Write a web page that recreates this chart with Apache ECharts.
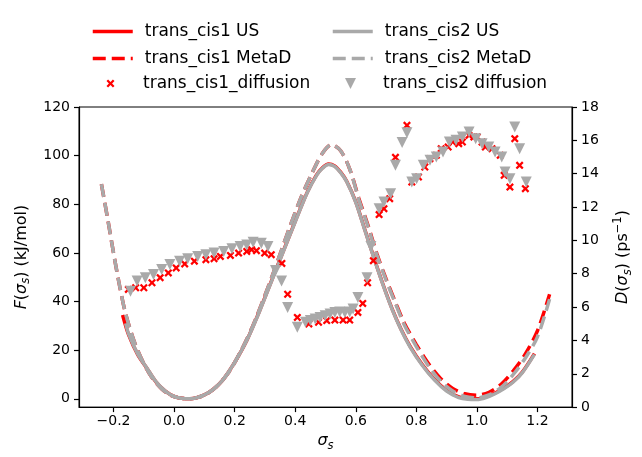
<!DOCTYPE html>
<html>
<head>
<meta charset="utf-8">
<script src="https://cdn.jsdelivr.net/npm/echarts@6/dist/echarts.min.js"></script>
<style>
html,body{margin:0;padding:0;background:#fff;}
#c{width:642px;height:457px;}
</style>
</head>
<body>
<div id="c"></div>
<script>
// ---- data ----
const xTicks = [-0.2, 0.0, 0.2, 0.4, 0.6, 0.8, 1.0, 1.2];
const fTicks = [0, 20, 40, 60, 80, 100, 120];

// trans_cis1 US (red solid)
const us1X = [-0.17,-0.15,-0.12,-0.09,-0.06,-0.03,0.0,0.03,0.05,0.07,0.10,0.13,0.16,0.20,0.24,0.28,0.32,0.36,0.40,0.44,0.47,0.49,0.51,0.53,0.55,0.57,0.60,0.63,0.66,0.69,0.72,0.75,0.78,0.82,0.86,0.90,0.94,0.97,1.00,1.03,1.06,1.09,1.12,1.15,1.19];
const us1F = [34.5,26.3,18.2,12.6,7.0,3.3,1.0,0.1,0.0,0.3,1.6,4.0,7.6,15.0,24.0,35.5,48.0,60.5,73.0,85.0,92.0,95.0,96.6,95.8,93.2,89.5,81.0,69.5,58.0,47.0,37.0,28.5,21.5,14.0,8.0,3.5,0.8,0.1,0.0,0.8,2.4,4.5,7.2,11.0,18.6];

// trans_cis2 US (gray solid)
const us2X = [-0.16,-0.15,-0.12,-0.09,-0.06,-0.03,0.0,0.03,0.05,0.07,0.10,0.13,0.16,0.20,0.24,0.28,0.32,0.36,0.40,0.44,0.47,0.49,0.51,0.53,0.55,0.57,0.60,0.63,0.66,0.69,0.72,0.75,0.78,0.82,0.86,0.90,0.94,0.97,1.00,1.03,1.06,1.09,1.12,1.15,1.19];
const us2F = [31.0,26.6,18.4,12.7,7.1,3.3,1.0,0.1,0.0,0.3,1.6,4.0,7.6,15.0,24.0,35.3,47.8,60.3,72.8,84.8,91.8,94.8,96.4,95.6,93.0,89.3,80.8,69.3,57.8,46.8,36.8,28.3,21.2,13.7,7.7,3.2,0.5,-0.2,-0.3,0.5,2.1,4.2,6.9,10.8,18.3];

// trans_cis1 MetaD (red dashed)
const md1X = [-0.24,-0.22,-0.20,-0.18,-0.16,-0.13,-0.10,-0.07,-0.04,-0.01,0.02,0.05,0.08,0.11,0.14,0.18,0.22,0.26,0.30,0.34,0.38,0.42,0.46,0.49,0.52,0.55,0.58,0.61,0.64,0.67,0.70,0.73,0.76,0.80,0.84,0.88,0.92,0.96,1.00,1.04,1.08,1.12,1.16,1.20,1.24];
const md1F = [88.3,74.5,60.0,46.5,35.0,23.0,14.5,8.2,4.0,1.4,0.3,0.0,0.6,2.2,5.0,10.8,19.5,30.0,42.5,56.0,70.0,83.0,94.0,101.0,104.5,102.0,94.5,82.5,71.5,59.5,49.3,40.0,31.2,22.3,14.5,8.4,4.3,2.1,1.5,2.7,6.0,11.5,18.5,28.0,43.0];

// trans_cis2 MetaD (gray dashed)
const md2X = [-0.24,-0.22,-0.20,-0.18,-0.16,-0.13,-0.10,-0.07,-0.04,-0.01,0.02,0.05,0.08,0.11,0.14,0.18,0.22,0.26,0.30,0.34,0.38,0.42,0.46,0.49,0.52,0.55,0.58,0.61,0.64,0.67,0.70,0.73,0.76,0.80,0.84,0.88,0.92,0.96,1.00,1.04,1.08,1.12,1.16,1.20,1.24];
const md2F = [88.3,74.5,60.0,46.5,35.0,23.0,14.5,8.2,4.0,1.4,0.3,0.0,0.6,2.2,5.0,10.8,19.5,30.0,42.5,56.0,70.0,83.0,94.0,101.0,104.5,102.0,94.5,82.0,71.0,59.0,48.8,39.5,30.5,21.5,13.5,7.3,3.2,1.0,0.4,1.6,4.7,10.0,16.8,25.5,41.0];

// trans_cis1_diffusion (red x)
const dif1X = [-0.151,-0.127,-0.100,-0.073,-0.046,-0.019,0.007,0.035,0.067,0.105,0.132,0.153,0.186,0.213,0.240,0.256,0.272,0.299,0.321,0.356,0.375,0.407,0.445,0.477,0.504,0.531,0.558,0.580,0.607,0.623,0.639,0.658,0.677,0.693,0.712,0.731,0.769,0.785,0.807,0.828,0.845,0.866,0.882,0.905,0.920,0.940,0.952,0.974,0.990,1.001,1.017,1.028,1.050,1.077,1.090,1.109,1.125,1.141,1.160];
const dif1D = [7.06,7.16,7.16,7.46,7.76,8.05,8.35,8.59,8.75,8.84,8.90,9.04,9.10,9.24,9.34,9.44,9.38,9.24,9.14,8.62,6.77,5.38,4.99,5.09,5.19,5.22,5.22,5.22,5.68,6.22,7.46,8.78,11.55,11.9,12.5,14.98,16.9,13.5,13.8,14.4,14.9,15.1,15.5,15.6,15.9,15.8,15.9,16.3,16.2,16.2,15.9,15.6,15.5,15.1,13.9,13.2,16.1,14.5,13.1];

// trans_cis2 diffusion (gray triangles)
const dif2X = [-0.144,-0.122,-0.095,-0.068,-0.041,-0.014,0.018,0.045,0.078,0.105,0.132,0.164,0.191,0.218,0.240,0.261,0.288,0.310,0.335,0.355,0.375,0.407,0.434,0.450,0.466,0.482,0.499,0.515,0.531,0.547,0.564,0.580,0.591,0.607,0.637,0.650,0.677,0.693,0.715,0.731,0.753,0.769,0.785,0.801,0.823,0.845,0.866,0.888,0.909,0.931,0.952,0.974,0.996,1.017,1.039,1.060,1.082,1.093,1.109,1.125,1.141,1.163];
const dif2D = [6.95,7.56,7.76,7.95,8.25,8.55,8.75,8.90,9.04,9.14,9.24,9.34,9.50,9.64,9.73,9.89,9.83,9.64,8.2,7.56,5.98,4.79,5.09,5.20,5.28,5.38,5.48,5.58,5.68,5.70,5.68,5.70,5.88,6.57,7.76,9.64,11.9,12.3,12.8,14.5,15.87,16.46,13.5,13.7,14.5,14.8,15.0,15.3,15.9,16.0,16.2,16.5,16.1,15.8,15.6,15.3,15.0,14.1,13.7,16.8,15.5,13.5];

// ---- chart ----
const RED = '#ff0000', GRAY = '#a9a9a9';
const FONT = 'DejaVu Sans';
const pair = (xs, ys) => xs.map((x, i) => [x, ys[i]]);
const fmtX = v => (Math.round(v * 10) / 10).toFixed(1).replace('-', '\u2212');
const XPATH = 'path://M2,0L5,3L8,0L10,2L7,5L10,8L8,10L5,7L2,10L0,8L3,5L0,2Z';
const VPATH = 'path://M0,0L10,0L5,10Z';

const nameRich = {
  n: {fontFamily: FONT, fontSize: 16, color: '#000', lineHeight: 22},
  i: {fontFamily: FONT, fontSize: 16, fontStyle: 'italic', color: '#000', lineHeight: 22},
  sub: {fontFamily: FONT, fontSize: 11.5, fontStyle: 'italic', color: '#000', verticalAlign: 'bottom', lineHeight: 16},
  sup: {fontFamily: FONT, fontSize: 11.5, color: '#000', verticalAlign: 'top', lineHeight: 12}
};

const chart = echarts.init(document.getElementById('c'), null, {renderer: 'canvas'});
const legText = {fontFamily: FONT, fontSize: 17, color: '#000', lineHeight: 16};
function lineLegend(handleLeft, names) {
  return {orient: 'vertical', left: handleLeft - 5, top: 18, itemWidth: 40, itemHeight: 16, itemGap: 10,
    selectedMode: false, textStyle: Object.assign({}, legText, {padding: [0, 0, 0, 7]}), itemStyle: {opacity: 0},
    lineStyle: {width: 3.5},
    data: names};
}
function symLegend(center, w, textLeft, name, icon) {
  return {orient: 'vertical', left: center - w / 2 - 5, top: 70, itemWidth: w, itemHeight: w, itemGap: 10,
    selectedMode: false, symbolKeepAspect: true,
    textStyle: Object.assign({}, legText, {padding: [0, 0, 0, textLeft - center - w / 2 - 5]}),
    data: [{name: name, icon: icon}]};
}
chart.setOption({
  animation: false,
  backgroundColor: '#fff',
  grid: {left: 79, right: 59, top: 107, bottom: 46, show: true, borderColor: '#000', borderWidth: 1, backgroundColor: 'transparent'},
  legend: [
    lineLegend(91, ['trans_cis1 US', 'trans_cis1 MetaD']),
    symLegend(110.5, 8, 143, 'trans_cis1_diffusion', XPATH),
    lineLegend(331, ['trans_cis2 US', 'trans_cis2 MetaD']),
    symLegend(350.5, 11, 383, 'trans_cis2 diffusion', VPATH)
  ],
  xAxis: {
    type: 'value', min: -0.314, max: 1.314,
    axisLine: {show: true, onZero: false, lineStyle: {color: '#000', width: 1.2}},
    axisTick: {show: true, length: 5, customValues: xTicks, lineStyle: {color: '#000', width: 1.2}},
    axisLabel: {customValues: xTicks, formatter: fmtX, fontFamily: FONT, fontSize: 14, color: '#000', margin: 7},
    splitLine: {show: false},
    name: '{i|σ}{sub|s}', nameLocation: 'middle', nameGap: 22,
    nameTextStyle: {rich: nameRich}
  },
  yAxis: [
    {
      type: 'value', min: -3.4, max: 120, position: 'left',
      axisLine: {show: true, onZero: false, lineStyle: {color: '#000', width: 1.2}},
      axisTick: {show: true, length: 5, customValues: fTicks, lineStyle: {color: '#000', width: 1.2}},
      axisLabel: {customValues: fTicks, formatter: v => String(Math.round(v)), fontFamily: FONT, fontSize: 14, color: '#000', margin: 9},
      splitLine: {show: false},
      name: '{i|F}{n|(}{i|σ}{sub|s}{n|) (kJ/mol)}', nameLocation: 'middle', nameGap: 46, nameRotate: 90,
      nameTextStyle: {rich: nameRich}
    },
    {
      type: 'value', min: 0, max: 18, interval: 2, position: 'right',
      axisLine: {show: true, onZero: false, lineStyle: {color: '#000', width: 1.2}},
      axisTick: {show: true, length: 5, lineStyle: {color: '#000', width: 1.2}},
      axisLabel: {fontFamily: FONT, fontSize: 14, color: '#000', margin: 9},
      splitLine: {show: false},
      name: '{i|D}{n|(}{i|σ}{sub|s}{n|) (ps}{sup|−1}{n|)}', nameLocation: 'middle', nameGap: 40, nameRotate: 90,
      nameTextStyle: {rich: nameRich}
    }
  ],
  series: [
    {name: 'trans_cis1 US', type: 'line', yAxisIndex: 0, data: pair(us1X, us1F), showSymbol: false, symbol: 'none', smooth: 0.3,
     lineStyle: {color: RED, width: 3.5}, itemStyle: {color: RED}, z: 2},
    {name: 'trans_cis1 MetaD', type: 'line', yAxisIndex: 0, data: pair(md1X, md1F), showSymbol: false, symbol: 'none', smooth: 0.3,
     lineStyle: {color: RED, width: 3.5, type: [13, 6]}, itemStyle: {color: RED}, z: 2},
    {name: 'trans_cis2 US', type: 'line', yAxisIndex: 0, data: pair(us2X, us2F), showSymbol: false, symbol: 'none', smooth: 0.3,
     lineStyle: {color: GRAY, width: 3.5}, itemStyle: {color: GRAY}, z: 2},
    {name: 'trans_cis2 MetaD', type: 'line', yAxisIndex: 0, data: pair(md2X, md2F), showSymbol: false, symbol: 'none', smooth: 0.3,
     lineStyle: {color: GRAY, width: 3.5, type: [13, 6]}, itemStyle: {color: GRAY}, z: 2},
    {name: 'trans_cis1_diffusion', type: 'scatter', yAxisIndex: 1, data: pair(dif1X, dif1D), symbol: XPATH, symbolSize: 8,
     itemStyle: {color: RED, opacity: 1}, z: 3},
    {name: 'trans_cis2 diffusion', type: 'scatter', yAxisIndex: 1, data: pair(dif2X, dif2D), symbol: VPATH, symbolSize: 11,
     itemStyle: {color: GRAY, opacity: 1}, z: 3}
  ]
});
</script>
</body>
</html>
